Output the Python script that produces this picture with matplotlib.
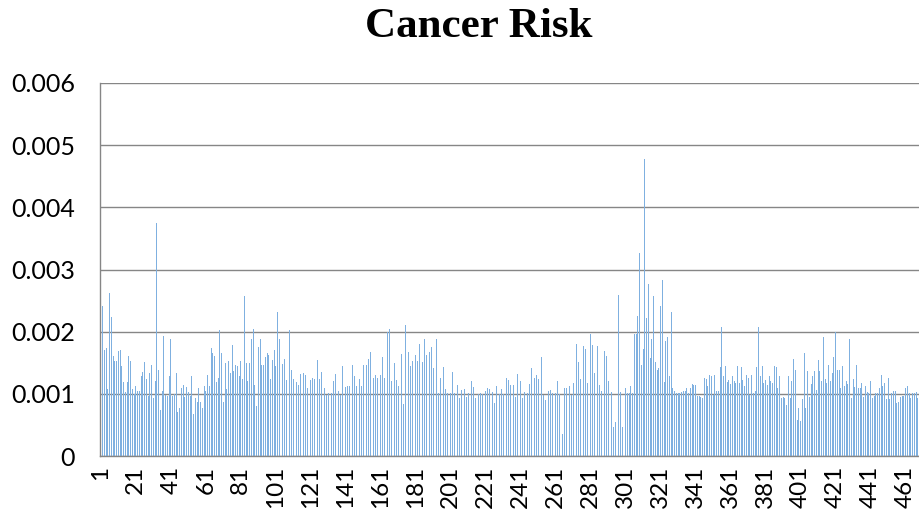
import numpy as np
import matplotlib
matplotlib.use('Agg')
import matplotlib.pyplot as plt

# Cancer risk values in units of 1e-3, one per record (1..468)
risk_milli = [
    1.36, 2.41, 1.70, 1.73, 1.07, 2.62, 2.23, 1.61, 1.53, 1.53,
    1.69, 1.70, 1.45, 1.19, 1.03, 1.19, 1.61, 1.53, 1.07, 1.00,
    1.13, 1.05, 1.05, 1.29, 1.35, 1.52, 1.24, 0.96, 1.33, 1.46,
    0.93, 1.21, 3.75, 1.38, 0.74, 1.05, 1.93, 0.98, 0.96, 1.29,
    1.89, 0.96, 1.00, 1.33, 0.71, 0.78, 1.10, 1.14, 0.95, 1.11,
    1.03, 0.96, 1.28, 0.68, 0.93, 0.87, 1.10, 0.87, 0.78, 1.13,
    1.05, 1.30, 1.13, 1.74, 1.65, 1.61, 1.19, 1.26, 2.03, 1.65,
    0.87, 1.50, 1.07, 1.53, 1.33, 1.78, 1.36, 1.47, 1.45, 1.28,
    1.53, 1.24, 2.57, 1.50, 1.21, 1.49, 1.88, 2.05, 1.15, 0.81,
    1.76, 1.89, 1.46, 1.47, 1.59, 1.65, 1.62, 1.24, 1.54, 1.71,
    1.45, 2.32, 1.89, 1.22, 1.48, 1.56, 1.22, 1.33, 2.03, 1.38,
    1.24, 1.48, 1.19, 1.14, 1.32, 1.38, 1.33, 1.31, 1.10, 1.30,
    1.22, 1.26, 1.24, 1.21, 1.54, 1.24, 1.35, 1.01, 1.10, 0.98,
    1.02, 1.10, 1.02, 1.21, 1.32, 1.19, 1.05, 0.98, 1.44, 1.21,
    1.11, 1.13, 1.13, 1.35, 1.47, 1.29, 1.13, 2.00, 1.24, 1.13,
    1.47, 1.24, 1.46, 1.56, 1.68, 1.81, 1.26, 1.31, 1.26, 1.08,
    1.30, 1.59, 1.26, 1.49, 2.00, 2.05, 1.21, 0.97, 1.50, 1.22,
    1.13, 1.30, 1.64, 0.84, 2.10, 1.40, 1.67, 1.44, 1.53, 1.81,
    1.62, 1.53, 1.80, 1.77, 1.52, 1.88, 1.62, 1.56, 1.67, 1.76,
    1.41, 1.29, 1.88, 1.02, 1.26, 1.45, 1.43, 1.08, 1.02, 1.07,
    1.02, 1.35, 1.02, 1.10, 1.15, 0.94, 1.06, 1.08, 1.07, 0.95,
    1.02, 1.02, 1.21, 1.11, 0.94, 0.94, 0.99, 1.02, 1.00, 1.05,
    1.05, 1.09, 1.07, 0.99, 1.03, 0.85, 1.13, 1.10, 0.99, 1.07,
    0.99, 0.99, 1.26, 1.23, 1.14, 0.99, 1.14, 0.95, 1.32, 1.22,
    1.21, 0.94, 1.03, 1.18, 1.01, 1.16, 1.41, 1.36, 1.26, 1.30,
    1.24, 1.60, 1.60, 0.98, 0.90, 1.10, 1.05, 1.06, 1.02, 1.13,
    1.01, 1.21, 1.00, 0.38, 0.35, 1.10, 1.10, 0.35, 1.13, 0.98,
    1.18, 1.71, 1.80, 1.51, 1.24, 2.04, 1.77, 1.72, 1.17, 0.97,
    1.97, 1.78, 1.34, 1.85, 1.77, 1.15, 1.05, 1.00, 1.69, 1.61,
    1.20, 1.60, 1.03, 0.46, 0.55, 0.69, 2.59, 1.03, 0.46, 1.17,
    1.10, 1.02, 1.01, 1.13, 1.01, 1.97, 1.96, 2.25, 3.27, 1.46,
    1.72, 4.78, 2.22, 2.76, 1.58, 1.88, 2.58, 1.52, 1.39, 1.41,
    2.41, 2.83, 1.19, 1.85, 1.91, 1.28, 2.31, 1.10, 1.05, 1.01,
    1.01, 1.01, 1.03, 1.05, 1.05, 1.09, 1.01, 1.09, 1.16, 1.15,
    1.14, 0.96, 0.96, 0.95, 0.94, 1.26, 1.24, 1.13, 1.30, 1.28,
    0.98, 1.30, 1.05, 1.05, 1.43, 2.08, 1.29, 1.44, 1.19, 1.22,
    1.16, 1.29, 1.21, 1.18, 1.44, 1.18, 1.43, 1.23, 1.13, 1.30,
    1.26, 0.98, 1.30, 1.02, 1.05, 1.43, 2.07, 1.29, 1.44, 1.18,
    1.22, 1.14, 1.29, 1.21, 1.18, 1.44, 1.43, 1.09, 1.28, 0.93,
    0.95, 0.93, 0.82, 1.29, 0.93, 1.21, 1.56, 1.38, 0.58, 0.78,
    0.57, 0.91, 1.65, 0.77, 1.36, 0.95, 1.16, 1.29, 1.37, 1.06,
    1.54, 1.36, 1.21, 1.91, 1.24, 1.18, 1.46, 1.21, 1.34, 1.60,
    2.00, 1.38, 1.38, 1.10, 1.44, 1.13, 1.21, 1.16, 1.89, 0.93,
    1.24, 1.11, 1.46, 1.10, 1.10, 1.17, 0.95, 1.13, 1.03, 1.02,
    1.21, 0.93, 0.96, 1.02, 1.02, 1.10, 1.30, 1.13, 1.18, 0.92,
    1.26, 0.92, 1.02, 1.05, 1.05, 0.85, 0.87, 0.95, 0.96, 0.96,
    1.10, 1.13, 1.02, 0.94, 1.02, 1.02, 1.03, 0.93,
]

values = np.array(risk_milli) * 1e-3
records = np.arange(len(values))
x_tick_pos = np.arange(0, len(values), 20)
x_tick_labels = [str(p + 1) for p in x_tick_pos]
y_ticks = [0, 0.001, 0.002, 0.003, 0.004, 0.005, 0.006]
y_tick_labels = ['0', '0.001', '0.002', '0.003', '0.004', '0.005', '0.006']

W, H = 919, 514
fig = plt.figure(figsize=(W / 100, H / 100), dpi=100)
left, right, top, bottom = 100, 919, 83, 456
ax = fig.add_axes([left / W, 1 - bottom / H, (right - left) / W, (bottom - top) / H])

ax.bar(records, values, width=0.55, color='#7FB0E0', linewidth=0, zorder=2)
ax.set_xlim(-0.45, len(values) - 0.4)
ax.set_ylim(0, 0.006)

ax.set_yticks(y_ticks)
ax.set_yticklabels(y_tick_labels, fontsize=18, family='Lato')
ax.set_xticks(x_tick_pos)
ax.set_xticklabels(x_tick_labels, rotation=90, fontsize=17.5, family='Lato')
ax.tick_params(axis='both', length=0)
ax.tick_params(axis='y', pad=18)
ax.tick_params(axis='x', pad=7)

ax.yaxis.grid(True, color='#868686', linewidth=1.0, zorder=1)
ax.set_axisbelow(True)
for s in ['top', 'right']:
    ax.spines[s].set_visible(False)
for s in ['left', 'bottom']:
    ax.spines[s].set_color('#868686')
    ax.spines[s].set_linewidth(1.0)

fig.text(479 / W, 1 - 27 / H, 'Cancer Risk', ha='center', va='center',
         fontsize=31, fontweight='bold', family='Liberation Serif')

fig.savefig('out.png', dpi=100)
